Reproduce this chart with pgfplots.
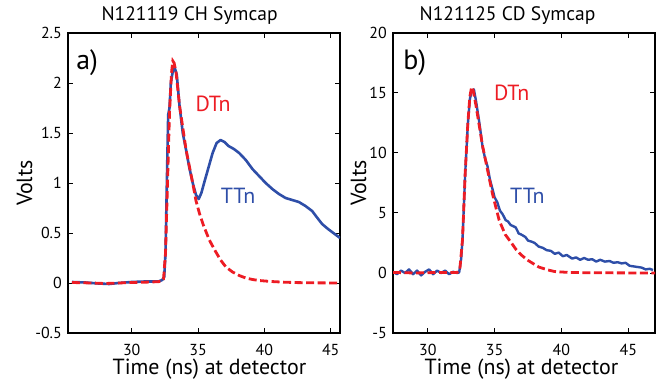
\documentclass[border=0pt]{standalone}
\usepackage{pgfplots}
\pgfplotsset{compat=1.18}
\usepackage{fontspec}
\setmainfont{PT Sans}
\definecolor{tblue}{RGB}{46,78,168}
\definecolor{dred}{RGB}{237,28,36}
\pgfplotsset{
  mystyle/.style={
    scale only axis, height=300bp,
    axis line style={line width=1.8bp},
    tick style={black, line width=1bp},
    major tick length=5bp,
    tick align=inside,
    /pgf/number format/assume math mode=true,
    tick label style={font=\fontsize{16}{18}\selectfont},
    xtick={30,35,40,45},
    xticklabel style={anchor=base, yshift=-22bp},
    yticklabel style={anchor=east, inner sep=0pt, xshift=-6bp},
    label style={font=\fontsize{22}{26}\selectfont},
    title style={font=\fontsize{19.6}{23}\selectfont, anchor=base, yshift=7bp},
    xlabel style={anchor=base, yshift=-41bp},
    xlabel={Time (ns) at detector},
    ylabel={Volts},
    clip=true,
  },
  blueline/.style={tblue, line width=2.6bp, line join=round},
  redline/.style={dred, line width=2.8bp, dash pattern=on 8bp off 3.5bp},
}
\begin{document}
\begin{tikzpicture}
\useasboundingbox (-68bp,-52bp) rectangle (593bp,333bp);
\begin{axis}[mystyle, width=272bp,
  xmin=25.2, xmax=45.7, ymin=-0.5, ymax=2.5,
  ytick={-0.5,0,0.5,1,1.5,2,2.5},
  yticklabel style={/pgf/number format/fixed},
  title={N121119 CH Symcap}, title style={at={(0.447,1)}},
  xlabel style={at={(axis description cs:0.52,0)}},
  ylabel style={at={(axis description cs:-0.16,0.5)}, anchor=center},
]
\addplot[blueline] coordinates {
(25.5,0.01) (26.5,0.005) (27.5,-0.005) (28.3,-0.01) (29,0.0) (30,0.01) (31,0.015) (32,0.015)
(32.3,0.03) (32.45,0.06) (32.55,0.3) (32.65,1.0) (32.75,1.68) (32.85,1.75) (32.95,2.0)
(33.1,2.12) (33.25,2.15) (33.4,2.08) (33.6,1.78) (33.85,1.5) (34.1,1.33) (34.35,1.15)
(34.6,1.0) (34.85,0.88) (35.05,0.84) (35.25,0.9) (35.5,1.02) (35.8,1.16) (36.1,1.3)
(36.4,1.4) (36.7,1.43) (37.0,1.41) (37.3,1.37) (37.7,1.34) (38.1,1.3) (38.6,1.23)
(39.1,1.14) (39.6,1.07) (40.1,1.0) (40.6,0.94) (41.1,0.89) (41.6,0.85) (42.1,0.83)
(42.6,0.81) (43.1,0.77) (43.6,0.72) (44.0,0.65) (44.35,0.59) (44.8,0.54) (45.2,0.5) (45.7,0.45)
};
\addplot[redline] coordinates {
(25.5,0.005) (27,0) (28,-0.005) (30,0.005) (31.5,0.01) (32.2,0.015) (32.4,0.04)
(32.55,0.3) (32.7,1.0) (32.85,1.7) (33.0,2.1) (33.1,2.22) (33.2,2.2) (33.35,2.1)
(33.6,1.78) (34.1,1.33) (34.6,1.0) (34.85,0.82) (35.1,0.7) (35.4,0.58) (35.85,0.43)
(36.3,0.32) (36.7,0.23) (37.1,0.16) (37.6,0.11) (38.1,0.075) (38.6,0.05) (39.1,0.035)
(39.6,0.025) (40.5,0.015) (41.5,0.008) (42.5,0.004) (43.5,0.002) (45.7,0)
};
\node[anchor=base west, inner sep=0pt, font=\fontsize{28}{32}\selectfont] at (rel axis cs:0.03,0.877) {a)};
\node[dred, anchor=base west, inner sep=0pt, font=\fontsize{22}{26}\selectfont] at (axis cs:34.8,1.713) {DTn};
\node[tblue, anchor=base west, inner sep=0pt, font=\fontsize{22}{26}\selectfont] at (axis cs:36.7,0.80) {TTn};
\end{axis}
\begin{axis}[mystyle, width=262bp, xshift=325bp,
  xmin=27.4, xmax=47, ymin=-5, ymax=20,
  ytick={-5,0,5,10,15,20},
  title={N121125 CD Symcap}, title style={at={(0.437,1)}},
  xlabel style={at={(axis description cs:0.49,0)}},
  ylabel style={at={(axis description cs:-0.131,0.5)}, anchor=center},
]
\addplot[blueline, line width=2.4bp] coordinates {
(27.4,0.1) (27.7,-0.1) (28.0,0.2) (28.3,0.0) (28.6,0.3) (28.9,-0.1) (29.2,0.2) (29.5,-0.2)
(29.8,0.1) (30.1,0.3) (30.4,-0.1) (30.7,0.2) (31.0,0.0) (31.3,0.2) (31.6,-0.1) (31.9,0.1)
(32.2,0.0) (32.35,0.05) (32.5,1.2) (32.6,2.8) (32.8,8.3) (33.0,12.4) (33.15,14.5) (33.3,15.2)
(33.45,15.3) (33.6,14.4) (33.85,12.6) (34.1,10.5) (34.3,9.5) (34.47,8.9) (34.65,7.8)
(34.84,7.0) (35.0,6.3) (35.2,5.9) (35.4,5.2) (35.6,4.9) (35.83,4.4) (36.0,4.3) (36.2,4.0)
(36.4,3.9) (36.58,3.8) (36.8,3.3) (37.0,3.2) (37.3,3.0) (37.5,2.7) (37.8,2.6) (38.0,2.5)
(38.3,2.2) (38.6,2.1) (38.9,1.9) (39.2,1.85) (39.5,1.6) (39.8,1.7) (40.1,1.4) (40.4,1.5)
(40.8,1.2) (41.1,1.3) (41.4,1.1) (41.7,1.25) (42.0,1.1) (42.3,1.15) (42.6,0.95) (42.9,1.1)
(43.25,0.95) (43.6,1.0) (43.9,0.85) (44.2,0.9) (44.5,0.8) (44.8,0.85) (45.1,0.6) (45.4,0.55)
(45.7,0.5) (46.0,0.45) (46.3,0.3) (46.6,0.35) (46.85,0.25)
};
\addplot[redline] coordinates {
(27.4,0.05) (29,0.0) (31,0.05) (32.2,0.05) (32.4,0.3) (32.6,2.8) (32.8,8.3) (33.0,12.5)
(33.15,14.7) (33.28,15.5) (33.4,15.2) (33.6,14.0) (33.85,12.3) (34.1,10.6) (34.47,8.6)
(34.84,6.6) (35.34,4.4) (35.8,3.2) (36.2,2.6) (36.58,2.0) (37.0,1.5) (37.5,1.05) (38.3,0.5)
(39.0,0.25) (39.5,0.12) (40.5,0.05) (42,0.02) (47,0)
};
\node[anchor=base west, inner sep=0pt, font=\fontsize{28}{32}\selectfont] at (rel axis cs:0.039,0.877) {b)};
\node[dred, anchor=base west, inner sep=0pt, font=\fontsize{22}{26}\selectfont] at (axis cs:34.95,14.4) {DTn};
\node[tblue, anchor=base west, inner sep=0pt, font=\fontsize{22}{26}\selectfont] at (axis cs:36.15,5.8) {TTn};
\end{axis}
\end{tikzpicture}
\end{document}
